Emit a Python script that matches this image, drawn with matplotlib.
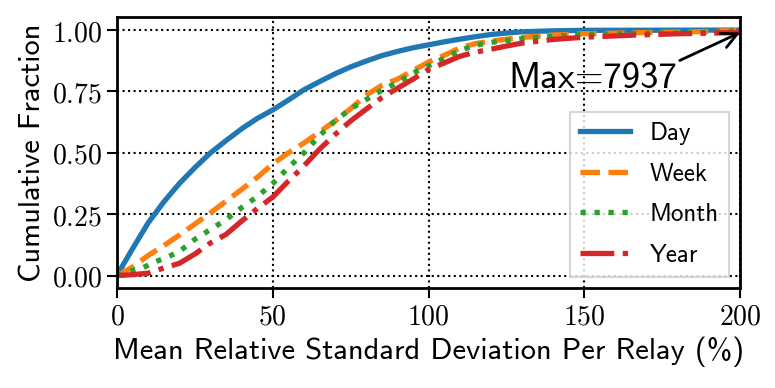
import numpy as np
import matplotlib
matplotlib.use('Agg')
import matplotlib.pyplot as plt
from matplotlib.ticker import FixedLocator, FixedFormatter

# CDF points (x = mean relative std dev %, y = cumulative fraction)
day_x = [0, 2, 5, 10, 15, 20, 25, 30, 35, 40, 45, 50, 55, 60, 65, 70, 75, 80, 85, 90, 95, 100,
         105, 110, 115, 120, 125, 130, 140, 150, 200]
day_y = [0, 0.045, 0.11, 0.215, 0.30, 0.375, 0.44, 0.50, 0.55, 0.598, 0.64, 0.675, 0.715, 0.757,
         0.79, 0.822, 0.85, 0.874, 0.896, 0.913, 0.928, 0.94, 0.952, 0.963, 0.973, 0.982, 0.988,
         0.993, 0.997, 0.999, 1.0]

week_x = [0, 5, 10, 15, 20, 25, 30, 35, 40, 45, 50, 55, 60, 65, 70, 75, 80, 85, 90, 95, 100,
          105, 110, 115, 120, 125, 130, 140, 150, 170, 190, 200]
week_y = [0, 0.035, 0.082, 0.122, 0.165, 0.21, 0.256, 0.303, 0.351, 0.40, 0.455, 0.50, 0.54,
          0.585, 0.63, 0.68, 0.735, 0.775, 0.80, 0.835, 0.87, 0.897, 0.927, 0.945, 0.955, 0.963,
          0.97, 0.98, 0.985, 0.99, 0.994, 1.0]

month_x = [0, 4, 8, 12, 16, 20, 25, 30, 35, 40, 45, 50, 55, 60, 65, 70, 75, 80, 85, 90, 95, 100,
           105, 110, 115, 120, 130, 140, 150, 170, 190, 200]
month_y = [0, 0.018, 0.03, 0.055, 0.075, 0.098, 0.148, 0.188, 0.228, 0.277, 0.322, 0.375, 0.44,
           0.50, 0.57, 0.63, 0.68, 0.717, 0.755, 0.787, 0.825, 0.855, 0.885, 0.917, 0.938, 0.95,
           0.965, 0.975, 0.982, 0.987, 0.99, 1.0]

year_x = [0, 5, 10, 15, 20, 25, 30, 35, 40, 45, 50, 55, 60, 65, 70, 75, 80, 85, 90, 95, 100,
          105, 110, 115, 120, 125, 130, 140, 150, 165, 180, 200]
year_y = [0, 0.004, 0.01, 0.031, 0.05, 0.088, 0.133, 0.168, 0.222, 0.273, 0.32, 0.385, 0.447,
          0.515, 0.575, 0.63, 0.678, 0.725, 0.763, 0.80, 0.84, 0.866, 0.893, 0.91, 0.922, 0.935,
          0.947, 0.962, 0.971, 0.979, 0.985, 0.99]

series = [
    ("Day", day_x, day_y, '#1f77b4', '-'),
    ("Week", week_x, week_y, '#ff7f0e', '--'),
    ("Month", month_x, month_y, '#2ca02c', ':'),
    ("Year", year_x, year_y, '#d62728', '-.'),
]

x_ticks = [0, 50, 100, 150, 200]
y_ticks = [0.0, 0.25, 0.5, 0.75, 1.0]
x_tick_labels = ['$0$', '$50$', '$100$', '$150$', '$200$']
y_tick_labels = ['$0.00$', '$0.25$', '$0.50$', '$0.75$', '$1.00$']
max_value = 7937

plt.rcParams['mathtext.fontset'] = 'cm'
sans = 'cmss10'

fig = plt.figure(figsize=(7.75, 3.88), dpi=100)
ax = fig.add_axes([0.151, 0.258, 0.804, 0.698])

for name, xs, ys, color, ls in series:
    ax.plot(xs, ys, color=color, linestyle=ls, linewidth=3.8, label=name)

ax.set_xlim(0, 200)
ax.set_ylim(-0.05, 1.053)
ax.xaxis.set_major_locator(FixedLocator(x_ticks))
ax.xaxis.set_major_formatter(FixedFormatter(x_tick_labels))
ax.yaxis.set_major_locator(FixedLocator(y_ticks))
ax.yaxis.set_major_formatter(FixedFormatter(y_tick_labels))
ax.tick_params(labelsize=20, length=7, width=1.5)
ax.grid(True, linestyle=':', color='black', linewidth=1.5)
for sp in ax.spines.values():
    sp.set_linewidth(2)

ax.set_xlabel('Mean Relative Standard Deviation Per Relay (%)', family=sans, fontsize=22)
ax.set_ylabel('Cumulative Fraction', family=sans, fontsize=22)

ax.annotate(f'Max={max_value}', xy=(200, 0.99), xytext=(125.5, 0.765),
            family=sans, fontsize=26.5,
            arrowprops=dict(arrowstyle='->', color='black', lw=2, relpos=(1, 1),
                            mutation_scale=28, shrinkA=0, shrinkB=0))

leg = ax.legend(loc='lower right', prop={'family': sans, 'size': 18}, fancybox=False,
                framealpha=0.8, edgecolor='#cccccc', borderaxespad=0.45, handlelength=2.0,
                labelspacing=0.7)
leg.get_frame().set_linewidth(1.5)

fig.savefig('out.png', dpi=100)
